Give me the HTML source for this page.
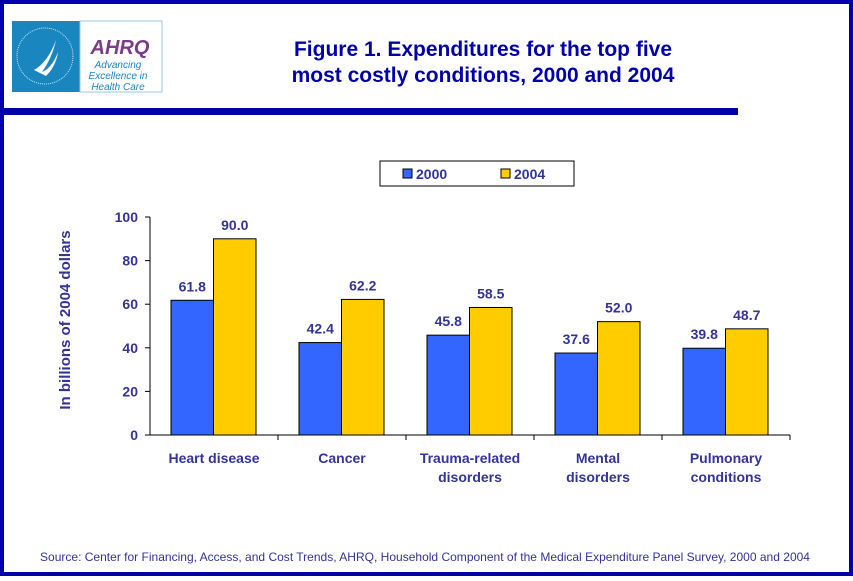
<!DOCTYPE html>
<html><head><meta charset="utf-8"><style>
body{margin:0;width:853px;height:576px;overflow:hidden;background:#fff;font-family:"Liberation Sans",Arial,sans-serif}
</style></head><body>
<svg width="853" height="576" viewBox="0 0 853 576" xmlns="http://www.w3.org/2000/svg" font-family="Liberation Sans, Arial, sans-serif">
<rect x="2" y="2" width="849" height="572" fill="#fff" stroke="#0000AA" stroke-width="4"/>
<rect x="0" y="108" width="738" height="7" fill="#0000AA"/>
<g>
<rect x="12" y="21" width="68" height="71" fill="#1a86c0"/>
<circle cx="45" cy="56" r="28" fill="none" stroke="#cfe6f2" stroke-width="1" stroke-dasharray="1 1"/>
<path d="M34 70 q14 -8 22 -30 q-4 18 -14 32 q10 -4 16 -20 q-2 14 -12 24 z" fill="#fff"/>
<rect x="80" y="21" width="82" height="71" fill="#fff" stroke="#9cc4e0"/>
<text x="120" y="54" text-anchor="middle" font-size="20" font-weight="bold" font-style="italic" fill="#7a3b8a">AHRQ</text>
<text x="118" y="68" text-anchor="middle" font-size="10" font-style="italic" fill="#1a86c0">Advancing</text>
<text x="118" y="79" text-anchor="middle" font-size="10" font-style="italic" fill="#1a86c0">Excellence in</text>
<text x="118" y="90" text-anchor="middle" font-size="10" font-style="italic" fill="#1a86c0">Health Care</text>
</g>
<text x="483" y="56" text-anchor="middle" font-size="21" font-weight="bold" fill="#0000AA">Figure 1. Expenditures for the top five</text>
<text x="483" y="82" text-anchor="middle" font-size="21" font-weight="bold" fill="#0000AA">most costly conditions, 2000 and 2004</text>
<g>
<rect x="380" y="161" width="194" height="25" fill="#fff" stroke="#000"/>
<rect x="403" y="169" width="9" height="9" fill="#3366FF" stroke="#000"/>
<text x="416" y="179" font-size="14" font-weight="bold" fill="#333399">2000</text>
<rect x="501" y="169" width="9" height="9" fill="#FFCC00" stroke="#000"/>
<text x="514" y="179" font-size="14" font-weight="bold" fill="#333399">2004</text>
</g>
<text transform="translate(70,320) rotate(-90)" text-anchor="middle" font-size="15" font-weight="bold" fill="#333399">In billions of 2004 dollars</text>
<g id="plot"></g>
<text x="40" y="561" font-size="12" fill="#333399" textLength="770" lengthAdjust="spacingAndGlyphs">Source: Center for Financing, Access, and Cost Trends, AHRQ, Household Component of the Medical Expenditure Panel Survey, 2000 and 2004</text>
</svg>
<script>
const categories=[["Heart disease"],["Cancer"],["Trauma-related","disorders"],["Mental","disorders"],["Pulmonary","conditions"]];
const values2000=[61.8,42.4,45.8,37.6,39.8];
const values2004=[90.0,62.2,58.5,52.0,48.7];
const yTicks=[0,20,40,60,80,100];
const NS="http://www.w3.org/2000/svg";
const g=document.getElementById('plot');
const x0=150,x1=790,y0=435,y100=217;
const bw=(x1-x0)/categories.length;
const y=v=>y0-(v/100)*(y0-y100);
function el(t,a,p){const e=document.createElementNS(NS,t);for(const k in a)e.setAttribute(k,a[k]);(p||g).appendChild(e);return e;}
yTicks.forEach(t=>{
 const l=el('line',{x1:x0-5,x2:x0,y1:y(t),y2:y(t),stroke:'#000'});
 
 
 const tx=el('text',{x:x0-12,y:y(t)+5,'text-anchor':'end','font-size':14,'font-weight':'bold',fill:'#333399'});
 tx.textContent=t;
 
 
});
const ax=el('line',{x1:x0,x2:x0,y1:y100,y2:y0,stroke:'#000'});


const bx=el('line',{x1:x0,x2:x1,y1:y0,y2:y0,stroke:'#000'});


categories.forEach((c,i)=>{
 const cx=x0+i*bw;
 const tk=el('line',{x1:cx+bw,x2:cx+bw,y1:y0,y2:y0+5,stroke:'#000'});
 
 
 const w=42.5, s=cx+21;
 [[values2000[i],'#3366FF','2000'],[values2004[i],'#FFCC00','2004']].forEach((d,j)=>{
  const r=el('rect',{x:s+j*w,y:y(d[0]),width:w,height:y0-y(d[0]),fill:d[1],stroke:'#000'});
  
  
  const t=el('text',{x:s+j*w+w/2,y:y(d[0])-9,'text-anchor':'middle','font-size':14,'font-weight':'bold',fill:'#333399'});
  t.textContent=d[0].toFixed(1);
  
  
 });
 c.forEach((ln,k)=>{
  const t=el('text',{x:cx+bw/2,y:463+k*19,'text-anchor':'middle','font-size':14,'font-weight':'bold',fill:'#333399'});
  t.textContent=ln;
  
  
 });
});
</script>
</body></html>
